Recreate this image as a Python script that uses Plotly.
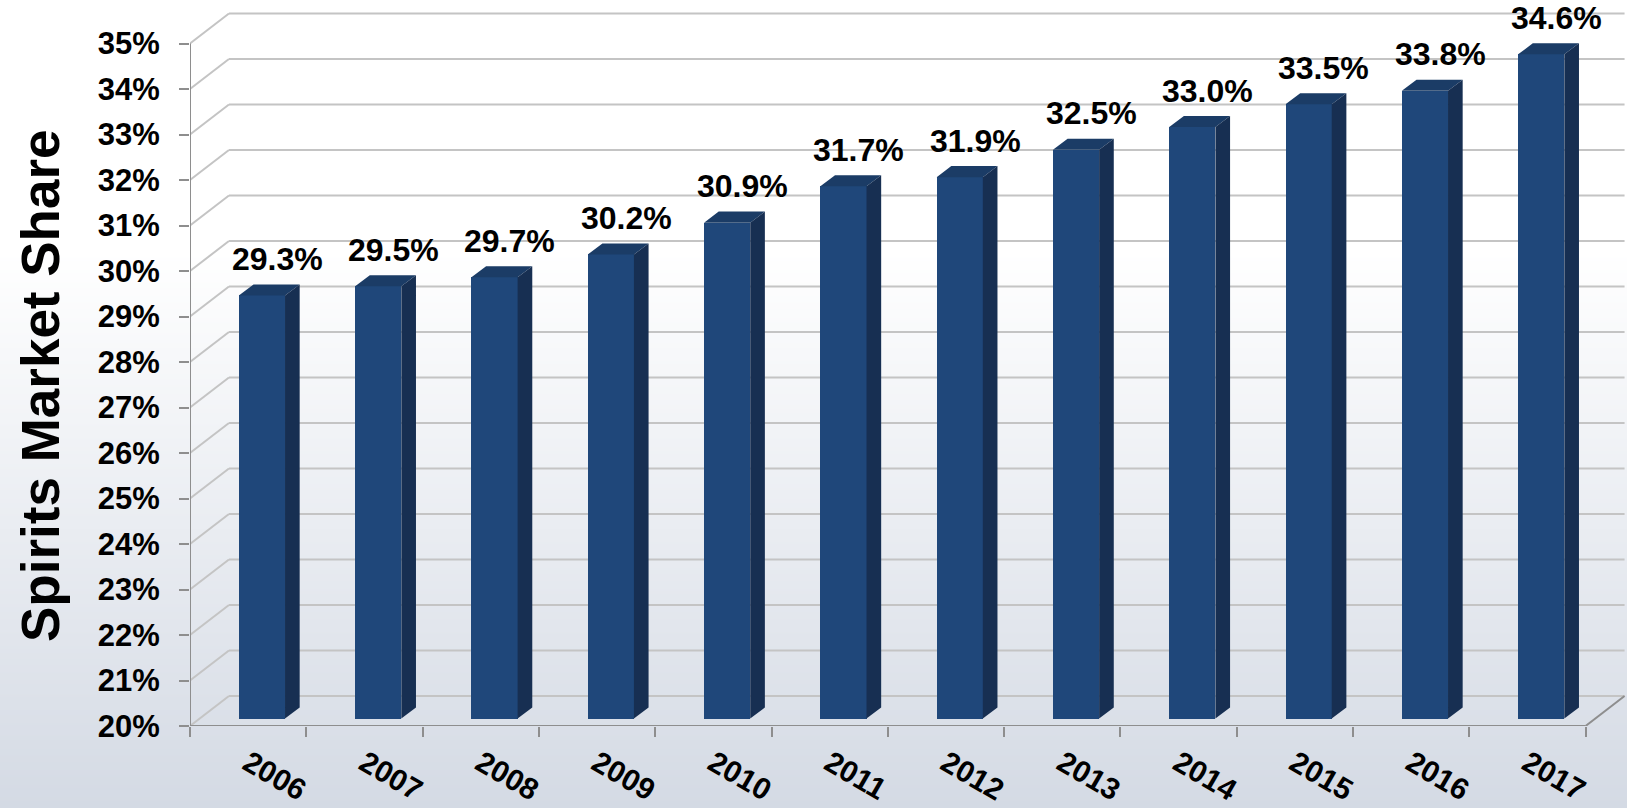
import base64
import struct
import zlib

import plotly.graph_objects as go

# ---- data -------------------------------------------------------------
years = ["2006", "2007", "2008", "2009", "2010", "2011",
         "2012", "2013", "2014", "2015", "2016", "2017"]
share = [29.3, 29.5, 29.7, 30.2, 30.9, 31.7, 31.9, 32.5, 33.0, 33.5, 33.8, 34.6]
y_ticks = list(range(20, 36))

# ---- page / geometry ----------------------------------------------------
W, H = 1627, 808
L, B = 190, 82
PLOT_W, PLOT_H = W - L, H - B

Y_MIN = 20.0
Y_MAX = Y_MIN + PLOT_H / 45.5          # ~45.5 px per percentage point
X_MIN = -0.5
X_MAX = X_MIN + PLOT_W / 116.3         # ~116.3 px per year slot
X_END = len(years) - 0.5

WALL_DX, WALL_DY = 0.335, 0.659        # depth of the back wall (data units)
BAR_LIFT = 0.163                       # bars sit slightly back on the floor
BAR_OFF, BAR_W = -0.08, 0.397
SIDE_DX, SIDE_DY = 0.126, 0.242        # depth of each bar

FRONT = "#1f477a"
SIDE = "#172f52"
TOP = "#1b3c66"
GRID = "#c4c4c4"
AXIS = "#8e8e8e"
FONT = "Liberation Sans, Arial, Helvetica, sans-serif"


def gradient_png(stops, height):
    """Vertical gradient as a 1px-wide PNG data URI."""
    rows = []
    for r in range(height):
        y = r / (height - 1)
        for (y0, c0), (y1, c1) in zip(stops[:-1], stops[1:]):
            if y0 <= y <= y1:
                t = 0 if y1 == y0 else (y - y0) / (y1 - y0)
                rows.append(bytes(round(a + (b - a) * t) for a, b in zip(c0, c1)))
                break
    raw = b"".join(b"\x00" + row for row in rows)

    def chunk(tag, data):
        return (struct.pack(">I", len(data)) + tag + data
                + struct.pack(">I", zlib.crc32(tag + data) & 0xFFFFFFFF))

    ihdr = struct.pack(">IIBBBBB", 1, height, 8, 2, 0, 0, 0)
    png = (b"\x89PNG\r\n\x1a\n" + chunk(b"IHDR", ihdr)
           + chunk(b"IDAT", zlib.compress(raw)) + chunk(b"IEND", b""))
    return "data:image/png;base64," + base64.b64encode(png).decode()


bg = gradient_png([(0.0, (255, 255, 255)), (0.31, (255, 255, 255)),
                   (1.0, (212, 218, 228))], H)

idx = list(range(len(years)))
fig = go.Figure()

# front faces of the bars
fig.add_trace(go.Bar(
    x=idx, y=[v - Y_MIN for v in share], base=Y_MIN + BAR_LIFT,
    offset=BAR_OFF, width=BAR_W,
    marker=dict(color=FRONT, line=dict(width=0)),
    hoverinfo="skip", showlegend=False,
))

# top and side faces
top_x, top_y, side_x, side_y = [], [], [], []
for i, v in zip(idx, share):
    x0 = i + BAR_OFF
    x1 = x0 + BAR_W
    yt = v + BAR_LIFT
    yb = Y_MIN + BAR_LIFT
    top_x += [x0, x1, x1 + SIDE_DX, x0 + SIDE_DX, x0, None]
    top_y += [yt, yt, yt + SIDE_DY, yt + SIDE_DY, yt, None]
    side_x += [x1, x1, x1 + SIDE_DX, x1 + SIDE_DX, x1, None]
    side_y += [yb, yt, yt + SIDE_DY, yb + SIDE_DY, yb, None]

for xs, ys, col in ((top_x, top_y, TOP), (side_x, side_y, SIDE)):
    fig.add_trace(go.Scatter(
        x=xs, y=ys, mode="lines", fill="toself", fillcolor=col,
        line=dict(width=0, color=col), hoverinfo="skip", showlegend=False,
    ))

# back wall / side wall grid
shapes = []
for t in y_ticks:
    shapes.append(dict(type="line", xref="x", yref="y", layer="below",
                       x0=X_MIN, y0=t, x1=X_MIN + WALL_DX, y1=t + WALL_DY,
                       line=dict(color=GRID, width=2)))
    shapes.append(dict(type="line", xref="x", yref="y", layer="below",
                       x0=X_MIN + WALL_DX, y0=t + WALL_DY,
                       x1=X_END + WALL_DX, y1=t + WALL_DY,
                       line=dict(color=GRID, width=2)))
# front axis lines and floor edge
shapes.append(dict(type="line", xref="x", yref="y", layer="below",
                   x0=X_MIN, y0=Y_MIN, x1=X_MIN, y1=y_ticks[-1],
                   line=dict(color=AXIS, width=2)))
shapes.append(dict(type="line", xref="x", yref="y", layer="below",
                   x0=X_MIN, y0=Y_MIN, x1=X_END, y1=Y_MIN,
                   line=dict(color=AXIS, width=2)))
shapes.append(dict(type="line", xref="x", yref="y", layer="below",
                   x0=X_END, y0=Y_MIN, x1=X_END + WALL_DX, y1=Y_MIN + WALL_DY,
                   line=dict(color=AXIS, width=2)))

# value labels
annotations = [
    dict(x=i + 0.25, y=v + 0.7, xref="x", yref="y", text=f"{v:.1f}%",
         showarrow=False, xanchor="center", yanchor="bottom", yshift=-8,
         font=dict(family=FONT, size=32, color="black", weight="bold"))
    for i, v in zip(idx, share)
]
annotations.append(dict(
    x=(41 - L) / PLOT_W, y=(PLOT_H - 386) / PLOT_H, xref="paper", yref="paper",
    text="Spirits Market Share", textangle=-90, showarrow=False,
    xanchor="center", yanchor="middle",
    font=dict(family=FONT, size=53, color="black", weight="bold"),
))

fig.update_layout(
    width=W, height=H,
    margin=dict(l=L, r=0, t=0, b=B, pad=0, autoexpand=False),
    paper_bgcolor="white", plot_bgcolor="rgba(0,0,0,0)",
    showlegend=False, bargap=0,
    shapes=shapes, annotations=annotations,
    images=[dict(source=bg, xref="paper", yref="paper",
                 x=-L / PLOT_W, y=1, sizex=W / PLOT_W, sizey=H / PLOT_H,
                 xanchor="left", yanchor="top", sizing="stretch", layer="below")],
    xaxis=dict(
        range=[X_MIN, X_MAX], tickmode="array", tickvals=idx, ticktext=years,
        tickangle=30, ticks="outside", ticklen=7, tickcolor="rgba(0,0,0,0)",
        showgrid=False, zeroline=False, showline=False, automargin=False,
        tickfont=dict(family=FONT, size=30, color="black", weight="bold"),
        minor=dict(tickmode="linear", tick0=X_MIN, dtick=1, ticks="outside",
                   ticklen=10, tickwidth=2, tickcolor=AXIS, showgrid=False),
        fixedrange=True,
    ),
    yaxis=dict(
        range=[Y_MIN, Y_MAX], tickmode="array", tickvals=y_ticks,
        ticktext=[f"{t}%" for t in y_ticks],
        ticks="outside", ticklen=10, tickwidth=2, tickcolor=AXIS,
        ticklabelstandoff=13, automargin=False,
        showgrid=False, zeroline=False, showline=False,
        tickfont=dict(family=FONT, size=31, color="black", weight="bold"),
        fixedrange=True,
    ),
)

fig.write_html("out.html")
